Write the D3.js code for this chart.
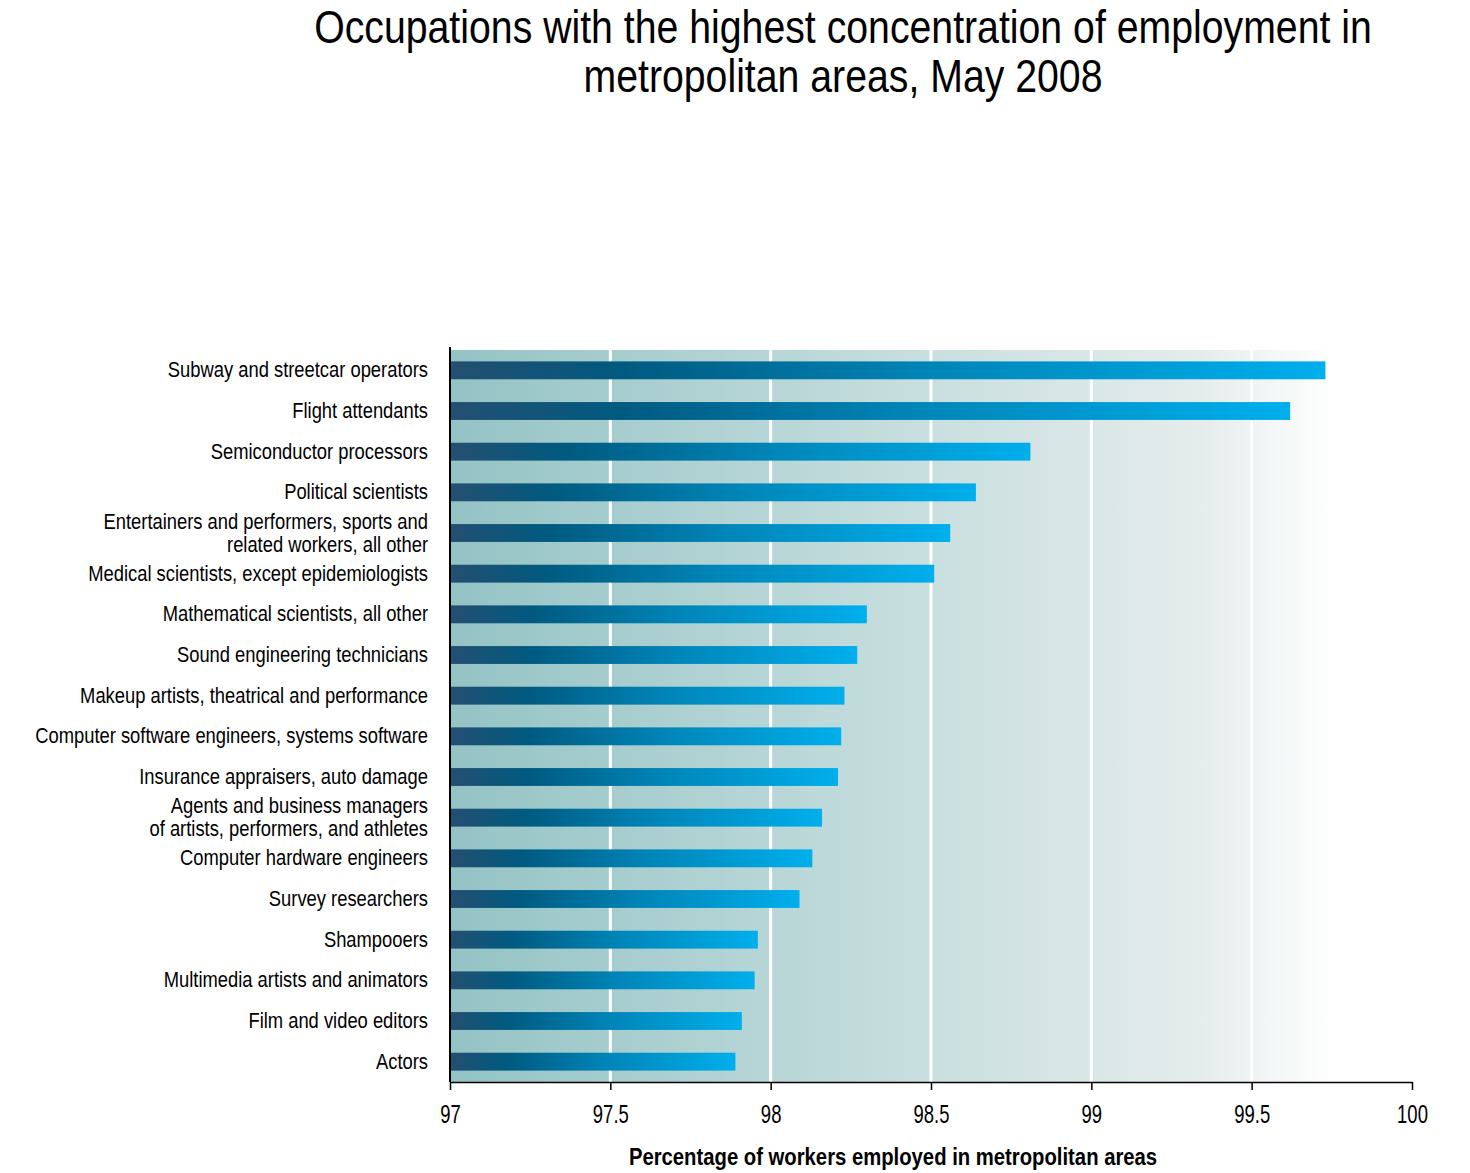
<!DOCTYPE html>
<html>
<head>
<meta charset="utf-8">
<script src="https://cdn.jsdelivr.net/npm/d3@7"></script>
<style>
  body { margin: 0; background: #fff; }
  svg text { font-family: "Liberation Sans", Arial, sans-serif; }
</style>
</head>
<body>
<svg id="chart" width="1470" height="1173"></svg>
<script>
const categories = [
  "Subway and streetcar operators",
  "Flight attendants",
  "Semiconductor processors",
  "Political scientists",
  "Entertainers and performers, sports and|related workers, all other",
  "Medical scientists, except epidemiologists",
  "Mathematical scientists, all other",
  "Sound engineering technicians",
  "Makeup artists, theatrical and performance",
  "Computer software engineers, systems software",
  "Insurance appraisers, auto damage",
  "Agents and business managers|of artists, performers, and athletes",
  "Computer hardware engineers",
  "Survey researchers",
  "Shampooers",
  "Multimedia artists and animators",
  "Film and video editors",
  "Actors"
];
const values = [99.73, 99.62, 98.81, 98.64, 98.56, 98.51, 98.30, 98.27, 98.23, 98.22, 98.21, 98.16, 98.13, 98.09, 97.96, 97.95, 97.91, 97.89];
const xTicks = [97, 97.5, 98, 98.5, 99, 99.5, 100];
const titleLines = ["Occupations with the highest concentration of employment in", "metropolitan areas, May 2008"];
const xTitle = "Percentage of workers employed in metropolitan areas";

const NARROW = 0.835; // horizontal squeeze to mimic a narrow typeface
const svg = d3.select("#chart");
const pL = 450, pR = 1412, pT = 350, pB = 1082;

const x = d3.scaleLinear().domain([97, 100]).range([pL, pR]);
const y = d3.scaleBand().domain(categories).range([pT, pB]).paddingInner(0.56).paddingOuter(0.28);

const defs = svg.append("defs");
const bg = defs.append("linearGradient").attr("id", "bgGrad")
  .attr("x1", 0).attr("x2", 1).attr("y1", 0).attr("y2", 0);
[[0, "#94c3c5"], [0.5, "#c9dfdf"], [0.78, "#e5ecec"], [0.92, "#ffffff"], [1, "#ffffff"]]
  .forEach(([o, c]) => bg.append("stop").attr("offset", o).attr("stop-color", c));

const bar = defs.append("linearGradient").attr("id", "barGrad")
  .attr("x1", 0).attr("x2", 1).attr("y1", 0).attr("y2", 0);
[[0, "#244f70"], [0.2, "#005a80"], [0.55, "#0085b8"], [1, "#00afec"]]
  .forEach(([o, c]) => bar.append("stop").attr("offset", o).attr("stop-color", c));

// title
svg.append("g").selectAll("g").data(titleLines).join("g")
  .attr("transform", (d, i) => `translate(843,${43 + i * 49}) scale(${NARROW},1)`)
  .append("text")
  .attr("text-anchor", "middle")
  .attr("font-size", 47)
  .attr("fill", "#000")
  .text(d => d);

// background
svg.append("rect").attr("x", pL).attr("y", pT).attr("width", pR - pL).attr("height", pB - pT)
  .attr("fill", "url(#bgGrad)");

// gridlines
svg.append("g").selectAll("line").data(xTicks.filter(t => t > 97 && t < 100)).join("line")
  .attr("x1", d => x(d)).attr("x2", d => x(d))
  .attr("y1", pT).attr("y2", pB)
  .attr("stroke", "#fff").attr("stroke-width", 3);

// bars
svg.append("g").selectAll("rect").data(values).join("rect")
  .attr("x", x(97))
  .attr("y", (d, i) => y(categories[i]))
  .attr("width", d => x(d) - x(97))
  .attr("height", y.bandwidth())
  .attr("fill", "url(#barGrad)");

// x axis
const xAxis = svg.append("g").attr("transform", `translate(0,${pB})`)
  .call(d3.axisBottom(x).tickValues(xTicks).tickFormat(d3.format("")).tickSize(8).tickSizeOuter(0));
xAxis.select(".domain").attr("stroke", "#000").attr("stroke-width", 1.5);
xAxis.selectAll(".tick line").attr("stroke", "#000").attr("stroke-width", 1.5);
xAxis.selectAll(".tick text").attr("font-size", 25).attr("fill", "#000")
  .attr("y", 41).attr("dy", 0)
  .attr("transform", "scale(0.74,1)")
  .attr("font-family", "\"Liberation Sans\", Arial, sans-serif");

// y axis line
svg.append("line").attr("x1", pL).attr("x2", pL).attr("y1", pT - 3).attr("y2", pB)
  .attr("stroke", "#000").attr("stroke-width", 2);

// category labels
const labels = svg.append("g").selectAll("g").data(categories).join("g")
  .attr("transform", d => `translate(428,${y(d) + y.bandwidth() / 2}) scale(${NARROW},1)`)
  .append("text")
  .attr("text-anchor", "end")
  .attr("font-size", 22)
  .attr("fill", "#000");
labels.each(function(d) {
  const parts = d.split("|");
  const t = d3.select(this);
  const lh = 23;
  parts.forEach((p, i) => {
    t.append("tspan").attr("x", 0)
      .attr("dy", i === 0 ? (7 - (parts.length - 1) * lh / 2) : lh)
      .text(p);
  });
});

// x title
svg.append("g").attr("transform", `translate(893,1165) scale(0.845,1)`)
  .append("text")
  .attr("text-anchor", "middle").attr("font-size", 24).attr("font-weight", "bold").attr("fill", "#000")
  .text(xTitle);
</script>
</body>
</html>
